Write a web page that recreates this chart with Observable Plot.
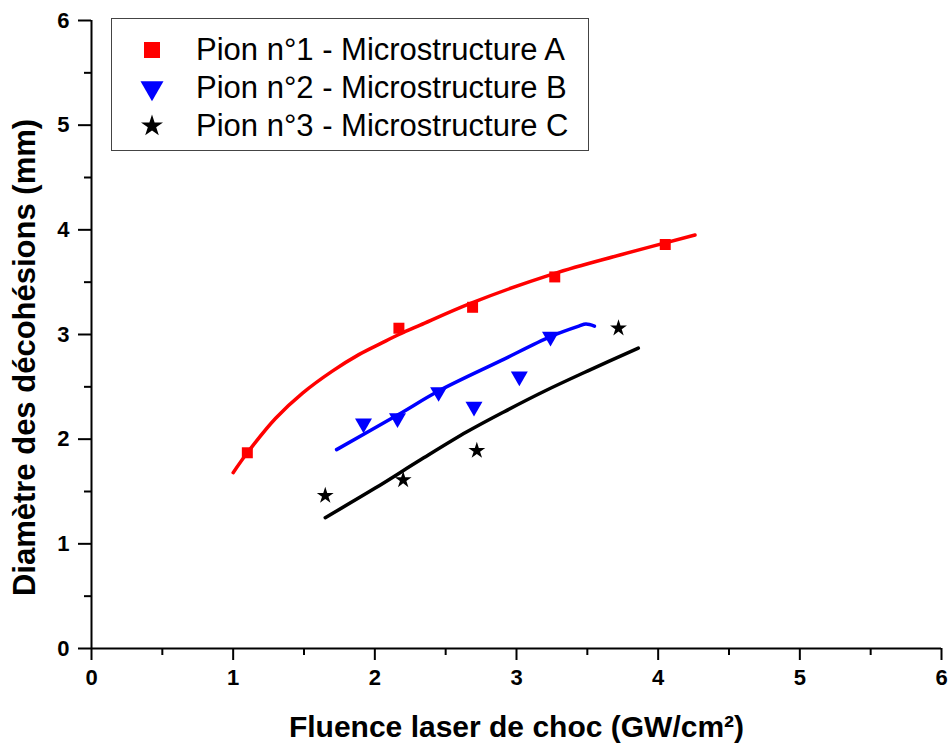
<!DOCTYPE html>
<html><head><meta charset="utf-8">
<script src="https://cdn.jsdelivr.net/npm/d3@7"></script>
<script src="https://cdn.jsdelivr.net/npm/@observablehq/plot@0.6"></script>
<style>
body{margin:0;background:#fff;}
#wrap{position:relative;width:950px;height:747px;font-family:"Liberation Sans",Arial,sans-serif;}
#legend{position:absolute;left:111px;top:18px;width:476px;height:131px;border:1.5px solid #444;background:#fff;box-sizing:content-box;}
.row{position:absolute;left:0;height:36px;display:flex;align-items:center;}
.row svg{position:absolute;left:22px;top:0;}
.row span{position:absolute;left:84px;white-space:nowrap;font-size:31px;line-height:36px;color:#000;}
</style></head>
<body><div id="wrap"></div>
<script>
// ---- data ----
const seriesNames = ["Pion n°1 - Microstructure A", "Pion n°2 - Microstructure B", "Pion n°3 - Microstructure C"];
const seriesColors = ["#ff0000", "#0000ff", "#000000"];

const ptsAx = [1.10, 2.17, 2.69, 3.27, 4.05];
const ptsAy = [1.87, 3.06, 3.26, 3.55, 3.86];
const ptsBx = [1.92, 2.16, 2.45, 2.70, 3.02, 3.24];
const ptsBy = [2.15, 2.20, 2.45, 2.31, 2.60, 2.98];
const ptsCx = [1.65, 2.20, 2.72, 3.72];
const ptsCy = [1.46, 1.61, 1.89, 3.06];

const fitAx = [1.00, 1.10, 1.30, 1.49, 1.70, 1.89, 2.05, 2.17, 2.32, 2.68, 3.26, 3.73, 4.26];
const fitAy = [1.68, 1.87, 2.20, 2.44, 2.65, 2.81, 2.92, 3.00, 3.09, 3.30, 3.58, 3.76, 3.95];
const fitBx = [1.73, 2.16, 2.45, 2.89, 3.24, 3.44, 3.49, 3.55];
const fitBy = [1.90, 2.23, 2.46, 2.75, 2.98, 3.08, 3.10, 3.08];
const fitCx = [1.65, 2.00, 2.32, 2.65, 2.91, 3.20, 3.50, 3.86];
const fitCy = [1.25, 1.53, 1.80, 2.07, 2.26, 2.46, 2.65, 2.87];

const xMajor = [0, 1, 2, 3, 4, 5, 6];
const xMinor = [0.5, 1.5, 2.5, 3.5, 4.5, 5.5];
const yMajor = [0, 1, 2, 3, 4, 5, 6];
const yMinor = [0.5, 1.5, 2.5, 3.5, 4.5, 5.5];
const xLabel = "Fluence laser de choc (GW/cm²)";
const yLabel = "Diamètre des décohésions (mm)";

// ---- build tables ----
const zip = (xs, ys) => xs.map((x, i) => ({x, y: ys[i]}));
const triangleDown = {
  draw(context, size) {
    const s3 = Math.sqrt(3);
    const y = -Math.sqrt(size / (s3 * 3));
    context.moveTo(0, -y * 2);
    context.lineTo(-s3 * y, y);
    context.lineTo(s3 * y, y);
    context.closePath();
  }
};
const symbols = [d3.symbolSquare, triangleDown, d3.symbolStar];
const pts = [zip(ptsAx, ptsAy), zip(ptsBx, ptsBy), zip(ptsCx, ptsCy)];
const fits = [zip(fitAx, fitAy), zip(fitBx, fitBy), zip(fitCx, fitCy)];
const radii = [6.2, 6.3, 5.3];
const fmt = d => String(d);

const marks = [
  Plot.axisX(xMinor, {tickSize: 7, tickFormat: () => "", strokeWidth: 2, label: null}),
  Plot.axisY(yMinor, {tickSize: 7, tickFormat: () => "", strokeWidth: 2, label: null}),
  Plot.axisX(xMajor, {tickSize: 12, tickPadding: 9, tickFormat: fmt, fontSize: 22, fontWeight: "bold", strokeWidth: 2, label: null}),
  Plot.axisY(yMajor, {tickSize: 13, tickPadding: 9, tickFormat: fmt, fontSize: 22, fontWeight: "bold", strokeWidth: 2, label: null}),
  Plot.ruleY([0], {strokeWidth: 2}),
  Plot.ruleX([0], {strokeWidth: 2}),
];
fits.forEach((f, i) => marks.push(Plot.line(f, {x: "x", y: "y", stroke: seriesColors[i], strokeWidth: 3.5, curve: "catmull-rom"})));
pts.forEach((p, i) => marks.push(Plot.dot(p, {x: "x", y: "y", fill: seriesColors[i], stroke: "none", symbol: symbols[i], r: radii[i]})));
marks.push(Plot.text([xLabel], {frameAnchor: "bottom", textAnchor: "middle", lineAnchor: "middle", dy: 79, fontSize: 30, fontWeight: "bold"}));
marks.push(Plot.text([yLabel], {frameAnchor: "left", textAnchor: "middle", lineAnchor: "middle", dx: -66, dy: 23, rotate: -90, fontSize: 31, fontWeight: "bold"}));

const chart = Plot.plot({
  width: 950, height: 747,
  marginLeft: 91, marginRight: 9, marginTop: 20, marginBottom: 99,
  x: {domain: [0, 6], axis: null},
  y: {domain: [0, 6], axis: null},
  style: {fontFamily: "'Liberation Sans', Arial, sans-serif", background: "#fff", color: "#000"},
  marks
});
const wrap = document.getElementById("wrap");
wrap.appendChild(chart);

// ---- legend ----
const legend = document.createElement("div");
legend.id = "legend";
const legendSizes = [256, 229, 150];
const rowTops = [13, 51, 89];
seriesNames.forEach((name, i) => {
  const row = document.createElement("div");
  row.className = "row";
  row.style.top = rowTops[i] + "px";
  const path = d3.symbol(symbols[i], legendSizes[i])();
  row.innerHTML = `<svg width="36" height="36" viewBox="-18 -18 36 36"><path d="${path}" fill="${seriesColors[i]}"/></svg><span>${name}</span>`;
  legend.appendChild(row);
});
wrap.appendChild(legend);
</script>
</body></html>
